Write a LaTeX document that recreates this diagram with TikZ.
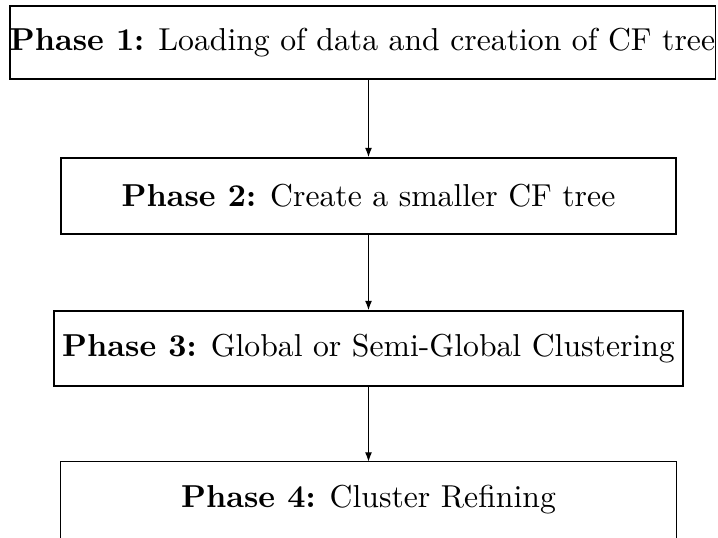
\documentclass[tikz,border=0pt]{standalone}
\usetikzlibrary{arrows.meta}
\begin{document}
\begin{tikzpicture}[x=0.31546pt,y=-0.31546pt,
  phase/.style={draw, rectangle, line width=0.4pt, inner sep=0pt, align=center},
  openphase/.style={phase, draw=none},
  flow/.style={-{Latex[length=3pt,width=2.2pt]}, line width=0.4pt}]
  \useasboundingbox (0,0) rectangle (718,538);
  \node[phase, minimum width=222.4pt, minimum height=23pt] (p1) at (362.5,42.5)
    {\textbf{Phase 1:} Loading of data and creation of CF tree};
  \node[phase, minimum width=194pt, minimum height=24pt] (p2) at (368.5,196)
    {\textbf{Phase 2:} Create a smaller CF tree};
  \node[phase, minimum width=198.4pt, minimum height=23.7pt] (p3) at (368.5,348.5)
    {\textbf{Phase 3:} Global or Semi-Global Clustering};
  % the last box runs past the lower edge of the page: only its top and sides show
  \node[openphase, minimum width=194pt, minimum height=23.7pt] (p4) at (368.5,500)
    {\textbf{Phase 4:} Cluster Refining};
  \draw[line width=0.4pt] (p4.south west) -- (p4.north west) -- (p4.north east) -- (p4.south east);
  \draw[flow] (p1.south -| 368.5,0) -- (p2.north -| 368.5,0);
  \draw[flow] (p2.south -| 368.5,0) -- (p3.north -| 368.5,0);
  \draw[flow] (p3.south -| 368.5,0) -- (p4.north -| 368.5,0);
\end{tikzpicture}
\end{document}
